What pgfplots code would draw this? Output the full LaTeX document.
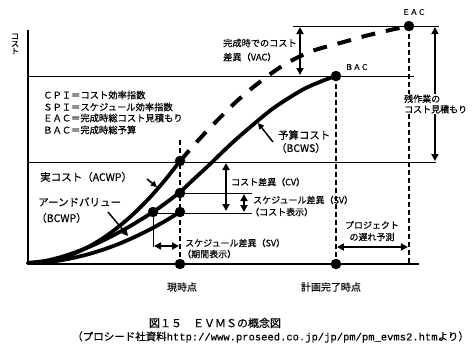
\documentclass[border=0pt]{standalone}
\usepackage{fontspec}
\setmainfont{Noto Sans CJK JP}[FakeBold=0.4]
\newfontfamily\monofont{Liberation Mono}[FakeBold=0.3]
\usepackage{pgfplots}
\pgfplotsset{compat=1.18}
\usetikzlibrary{arrows.meta}
\begin{document}
\begin{tikzpicture}[
  thinl/.style={black, line width=0.8pt},
  vdash/.style={black, line width=1.6pt, dash pattern=on 5pt off 3pt},
  curve/.style={black, line width=3.8pt, line cap=round},
  darr/.style={black, line width=1.7pt, {Triangle[length=7pt,width=7pt]}-{Triangle[length=7pt,width=7pt]}},
  sarr/.style={black, line width=1.5pt, -{Triangle[length=6pt,width=6pt]}},
  lbl/.style={inner sep=0pt, anchor=west},
]
\begin{axis}[
  scale only axis, width=476pt, height=354pt,
  xmin=0, xmax=476, ymin=0, ymax=354, y dir=reverse,
  hide axis, clip=false,
]
% frame for bounding box
\addplot[draw=white, line width=0.1pt, mark=none] coordinates {(0,0) (476,0) (476,354) (0,354) (0,0)};
% axes
\addplot[black, line width=2.6pt, mark=none] coordinates {(28,30) (28,264) (419,264)};
% thin horizontal lines
\addplot[thinl, mark=none] coordinates {(293,26) (439,26)};
\addplot[thinl, mark=none] coordinates {(28,76) (414,76)};
\addplot[thinl, mark=none] coordinates {(28,162) (436,162)};
\addplot[thinl, mark=none] coordinates {(180,193) (252,193)};
\addplot[thinl, mark=none] coordinates {(153,213) (252,213)};
\addplot[thinl, mark=none] coordinates {(153,212) (153,247)};
% dashed verticals
\addplot[vdash, mark=none] coordinates {(180,140) (180,264)};
\addplot[vdash, mark=none] coordinates {(336,76) (336,264)};
\addplot[vdash, mark=none] coordinates {(409,26) (409,264)};
% ACWP
\addplot[curve, smooth, mark=none] coordinates {(28,263) (45,261.7) (60,258.5) (75,253.2) (90,246.0) (105,236.8) (120,225.6) (135,212.5) (150,197.3) (165,180.1) (180,161)};
% BCWP
\addplot[curve, smooth, mark=none] coordinates {(28,263) (45,262.2) (60,260.4) (75,257.5) (90,253.7) (105,249.0) (120,243.4) (135,236.8) (150,229.4) (165,221.1) (180,212)};
% BCWS
\addplot[curve, smooth, mark=none] coordinates {(28,263) (45,260.9) (60,257.3) (75,252.4) (90,246.5) (105,239.6) (120,231.8) (135,223.2) (153,212) (165,203.5) (180,192) (195,178) (208,166) (232,143) (255,123) (275,107) (302,90) (322,81) (336,76)};
% forecast (dashed)
\addplot[black, line width=4pt, mark=none, smooth, dash pattern=on 14pt off 11pt] coordinates {(180,161) (205,133) (238,100) (265,78) (287,63) (312,51) (340,43) (365,36) (390,30) (409,26)};
% double arrows
\addplot[darr, mark=none] coordinates {(300,27) (300,75)};
\addplot[darr, mark=none] coordinates {(435,27) (435,161)};
\addplot[darr, mark=none] coordinates {(226,163) (226,211)};
\addplot[darr, mark=none] coordinates {(244,194) (244,212)};
\addplot[darr, mark=none] coordinates {(154,246) (179,246)};
\addplot[darr, mark=none] coordinates {(337,247) (408,247)};
% pointer arrows
\addplot[sarr, mark=none] coordinates {(273,142) (258,123)};
\addplot[sarr, mark=none] coordinates {(147,179) (157,187)};
\addplot[sarr, mark=none] coordinates {(108,212) (128,236)};
% points
\addplot[only marks, mark=*, mark size=5pt, black] coordinates {(180,161) (180,193) (180,212) (153,212) (180,264) (336,264) (336,76) (409,26)};

% texts
\node[inner sep=0pt, align=center, font=\fontsize{8}{7.5}\selectfont] at (axis cs:15,44) {コ\\ス\\ト};
\node[inner sep=0pt, font=\fontsize{7.8}{10}\selectfont] at (axis cs:414,12) {ＥＡＣ};
\node[inner sep=0pt, font=\fontsize{7.8}{10}\selectfont] at (axis cs:357,67) {ＢＡＣ};
\node[lbl, font=\fontsize{9.2}{11}\selectfont] at (axis cs:223,43) {完成時でのコスト};
\node[lbl, font=\fontsize{9.2}{11}\selectfont] at (axis cs:223,57) {差異（VAC）};
\node[lbl, fill=white, inner sep=1pt, align=left, font=\fontsize{9}{10.5}\selectfont] at (axis cs:403,104) {残作業の\\コスト見積もり};
\node[lbl, font=\fontsize{9.3}{11}\selectfont] at (axis cs:43,95) {ＣＰＩ＝コスト効率指数};
\node[lbl, font=\fontsize{9.3}{11}\selectfont] at (axis cs:43,107) {ＳＰＩ＝スケジュール効率指数};
\node[lbl, font=\fontsize{9.3}{11}\selectfont] at (axis cs:43,118) {ＥＡＣ＝完成時総コスト見積もり};
\node[lbl, font=\fontsize{9.3}{11}\selectfont] at (axis cs:43,130) {ＢＡＣ＝完成時総予算};
\node[lbl, font=\fontsize{10.4}{12}\selectfont] at (axis cs:278,135) {予算コスト};
\node[lbl, font=\fontsize{10.4}{12}\selectfont] at (axis cs:276,148) {（BCWS）};
\node[lbl, font=\fontsize{10.5}{12}\selectfont] at (axis cs:40,177) {実コスト（ACWP）};
\node[lbl, font=\fontsize{10.5}{12}\selectfont] at (axis cs:38,202) {アーンドバリュー};
\node[lbl, font=\fontsize{10.5}{12}\selectfont] at (axis cs:36,218) {（BCWP）};
\node[lbl, font=\fontsize{9}{11}\selectfont] at (axis cs:231,182) {コスト差異（CV）};
\node[lbl, font=\fontsize{9}{11}\selectfont] at (axis cs:253,200) {スケジュール差異（SV）};
\node[lbl, font=\fontsize{9}{11}\selectfont] at (axis cs:250,212) {（コスト表示）};
\node[lbl, font=\fontsize{9}{11}\selectfont] at (axis cs:185,243) {スケジュール差異（SV）};
\node[lbl, font=\fontsize{9}{11}\selectfont] at (axis cs:182,254) {（期間表示）};
\node[inner sep=0pt, font=\fontsize{9}{11}\selectfont] at (axis cs:372,225) {プロジェクト};
\node[inner sep=0pt, font=\fontsize{9}{11}\selectfont] at (axis cs:372,237) {の遅れ予測};
\node[inner sep=0pt, font=\fontsize{10}{12}\selectfont] at (axis cs:182,287) {現時点};
\node[inner sep=0pt, font=\fontsize{10}{12}\selectfont] at (axis cs:331,287) {計画完了時点};
\node[inner sep=0pt, font=\fontsize{11}{13}\selectfont] at (axis cs:215,323) {図１５　ＥＶＭＳの概念図};
\node[lbl, font=\fontsize{10.5}{13}\selectfont] at (axis cs:72,337) {（プロシード社資料{\monofont http://www.proseed.co.jp/jp/pm/pm\_evms2.htm}より）};
\end{axis}
\end{tikzpicture}
\end{document}
